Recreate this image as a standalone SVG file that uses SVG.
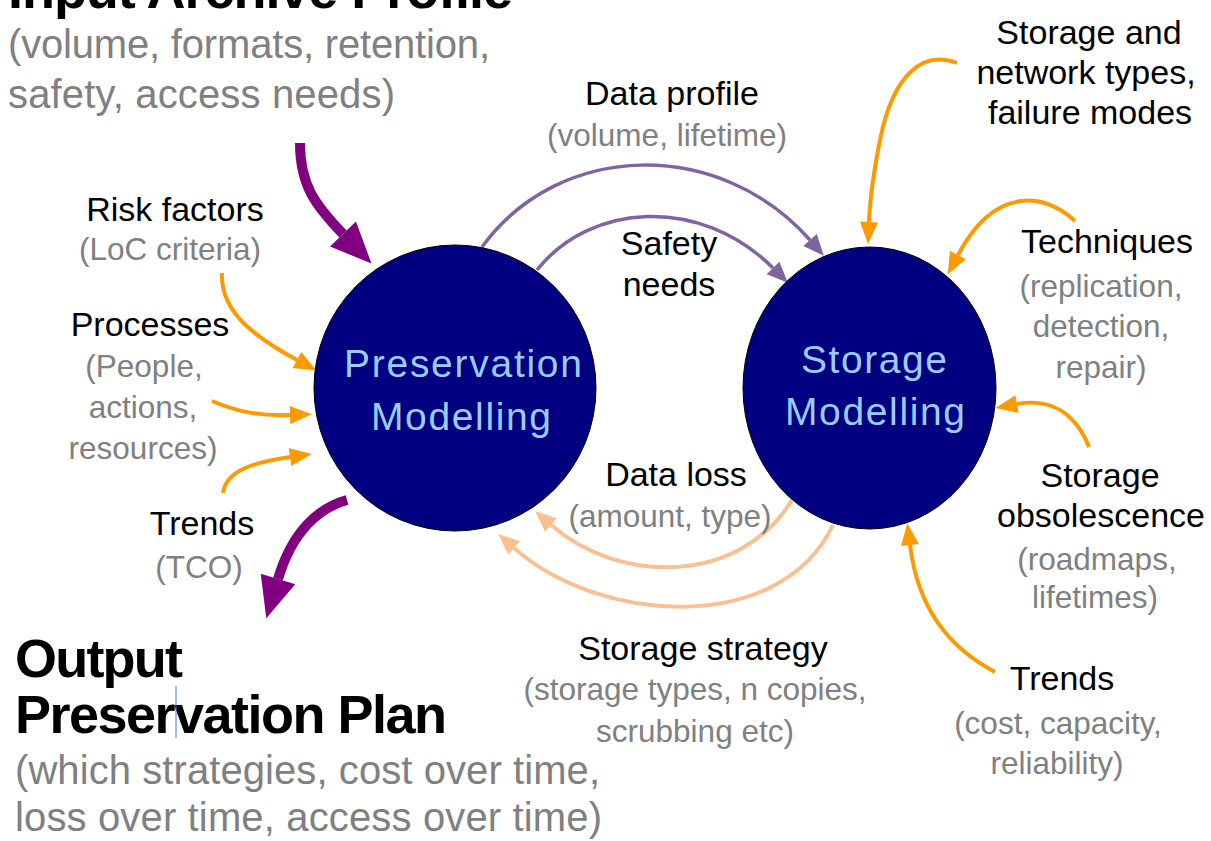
<svg xmlns="http://www.w3.org/2000/svg" width="1211" height="841" viewBox="0 0 1211 841">
<style>
text{font-family:"Liberation Sans",Arial,sans-serif}
.lbl{font-size:34px;fill:#000;text-anchor:middle}
.sub{font-size:31.5px;fill:#808080;text-anchor:middle}
.big{font-size:40px;fill:#808080}
.title{font-size:54px;font-weight:bold;fill:#000}
.node{font-size:39px;fill:#99ccff;text-anchor:middle}
.or{fill:none;stroke:#ff9900;stroke-width:4}
.pu{fill:none;stroke:#8064a2;stroke-width:3.5}
.pe{fill:none;stroke:#fac090;stroke-width:4}
.th{fill:none;stroke:#800080;stroke-width:10}
.circ{fill:#000080;stroke:#000;stroke-width:1}
</style>
<defs>
<marker id="mo" markerUnits="userSpaceOnUse" markerWidth="24" markerHeight="20" refX="0" refY="9" orient="auto" overflow="visible"><path d="M0,0 L22,9 L0,18 Z" fill="#ff9900"/></marker>
<marker id="mp" markerUnits="userSpaceOnUse" markerWidth="24" markerHeight="20" refX="0" refY="9" orient="auto" overflow="visible"><path d="M0,0 L21,9 L0,18 Z" fill="#8064a2"/></marker>
<marker id="me" markerUnits="userSpaceOnUse" markerWidth="24" markerHeight="20" refX="0" refY="9" orient="auto" overflow="visible"><path d="M0,0 L21,9 L0,18 Z" fill="#fac090"/></marker>
<marker id="mt" markerUnits="userSpaceOnUse" markerWidth="44" markerHeight="38" refX="0" refY="18" orient="auto" overflow="visible"><path d="M0,0 L41,18 L0,36 Z" fill="#800080"/></marker>
</defs>
<rect width="1211" height="841" fill="#fff"/>

<g id="connectors">
<path class="th" d="M300,143 C300,185 315,205 343,234" marker-end="url(#mt)"/>
<path class="th" d="M347,500 C318,508 292,532 278,579" marker-end="url(#mt)"/>
<path class="pu" d="M482,247 C560,140 720,138 810,240" marker-end="url(#mp)"/>
<path class="pu" d="M537,270 C590,203 700,195 773,268" marker-end="url(#mp)"/>
<path class="pe" d="M792,500 C740,585 620,585 551,525" marker-end="url(#me)"/>
<path class="pe" d="M833,525 C780,636 600,624 514,548" marker-end="url(#me)"/>
<path class="or" d="M957,63 C922,50 893,75 880,140 C873,175 870,200 869,222" marker-end="url(#mo)"/>
<path class="or" d="M1075,221 C1045,193 995,185 958,255" marker-end="url(#mo)"/>
<path class="or" d="M1089,447 C1075,412 1050,398 1017,404" marker-end="url(#mo)"/>
<path class="or" d="M995,672 C950,648 918,610 910,545" marker-end="url(#mo)"/>
<path class="or" d="M222,273 C220,312 255,337 297,360" marker-end="url(#mo)"/>
<path class="or" d="M212,401 C240,413 262,416 290,415" marker-end="url(#mo)"/>
<path class="or" d="M223,493 C226,470 255,462 290,457" marker-end="url(#mo)"/>
</g>

<g id="preservation-modelling">
<ellipse class="circ" cx="455" cy="388" rx="141" ry="143"/>
<text class="node" x="463" y="377" textLength="238">Preservation</text>
<text class="node" x="461" y="430" textLength="180">Modelling</text>
</g>

<g id="storage-modelling">
<ellipse class="circ" cx="869.5" cy="388" rx="126.5" ry="141"/>
<text class="node" x="874" y="373" textLength="146">Storage</text>
<text class="node" x="875" y="425" textLength="180">Modelling</text>
</g>

<g id="input-archive-profile">
<text class="title" x="8" y="8" textLength="505">Input Archive Profile</text>
<text class="big" x="8" y="58" textLength="482">(volume, formats, retention,</text>
<text class="big" x="8" y="108" textLength="387">safety, access needs)</text>
</g>

<g id="output-preservation-plan">
<text class="title" x="15" y="677" textLength="168">Output</text>
<text class="title" x="15" y="733" textLength="432">Preservation Plan</text>
<line x1="176" y1="686" x2="176" y2="738" stroke="#4472c4" stroke-width="1"/>
<text class="big" x="15" y="784" textLength="585">(which strategies, cost over time,</text>
<text class="big" x="15" y="831" textLength="587">loss over time, access over time)</text>
</g>

<g id="data-profile">
<text class="lbl" x="672" y="105">Data profile</text>
<text class="sub" x="667" y="146">(volume, lifetime)</text>
</g>
<g id="safety-needs">
<text class="lbl" x="669" y="255">Safety</text>
<text class="lbl" x="669" y="296">needs</text>
</g>
<g id="data-loss">
<text class="lbl" x="676" y="486">Data loss</text>
<text class="sub" x="670" y="527">(amount, type)</text>
</g>
<g id="storage-strategy">
<text class="lbl" x="703" y="660">Storage strategy</text>
<text class="sub" x="695" y="700">(storage types, n copies,</text>
<text class="sub" x="695" y="742">scrubbing etc)</text>
</g>
<g id="risk-factors">
<text class="lbl" x="175" y="221">Risk factors</text>
<text class="sub" x="170" y="260">(LoC criteria)</text>
</g>
<g id="processes">
<text class="lbl" x="150" y="336">Processes</text>
<text class="sub" x="144" y="377">(People,</text>
<text class="sub" x="143" y="418">actions,</text>
<text class="sub" x="143" y="459">resources)</text>
</g>
<g id="trends-left">
<text class="lbl" x="202" y="535">Trends</text>
<text class="sub" x="199" y="578">(TCO)</text>
</g>
<g id="storage-network-types">
<text class="lbl" x="1089" y="44">Storage and</text>
<text class="lbl" x="1086" y="84">network types,</text>
<text class="lbl" x="1090" y="124">failure modes</text>
</g>
<g id="techniques">
<text class="lbl" x="1107" y="253">Techniques</text>
<text class="sub" x="1101" y="297">(replication,</text>
<text class="sub" x="1101" y="337">detection,</text>
<text class="sub" x="1101" y="378">repair)</text>
</g>
<g id="storage-obsolescence">
<text class="lbl" x="1100" y="487">Storage</text>
<text class="lbl" x="1101" y="527">obsolescence</text>
<text class="sub" x="1097" y="570">(roadmaps,</text>
<text class="sub" x="1095" y="608">lifetimes)</text>
</g>
<g id="trends-right">
<text class="lbl" x="1062" y="690">Trends</text>
<text class="sub" x="1058" y="734">(cost, capacity,</text>
<text class="sub" x="1057" y="774">reliability)</text>
</g>
</svg>
